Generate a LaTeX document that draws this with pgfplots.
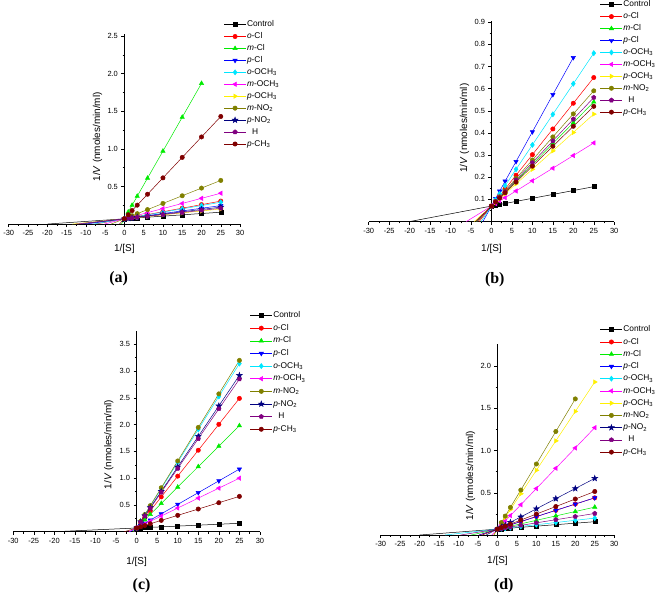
\documentclass[border=0pt]{standalone}
\usepackage{pgfplots}
\pgfplotsset{compat=1.18}
\usepackage{fontspec}
\setmainfont{Liberation Sans}
\newfontfamily\serifb{Liberation Serif}
\definecolor{cRed}{RGB}{255,0,0}
\definecolor{cGreen}{RGB}{0,235,0}
\definecolor{cBlue}{RGB}{0,0,255}
\definecolor{cCyan}{RGB}{0,230,255}
\definecolor{cMag}{RGB}{255,0,255}
\definecolor{cYel}{RGB}{255,240,0}
\definecolor{cOlive}{RGB}{128,128,0}
\definecolor{cNavy}{RGB}{0,0,128}
\definecolor{cPurp}{RGB}{128,0,128}
\definecolor{cWine}{RGB}{128,0,0}
\pgfdeclareplotmark{fstar}{%
  \pgfpathmoveto{\pgfpointpolar{90}{1.35\pgfplotmarksize}}%
  \pgfpathlineto{\pgfpointpolar{126}{0.55\pgfplotmarksize}}%
  \pgfpathlineto{\pgfpointpolar{162}{1.35\pgfplotmarksize}}%
  \pgfpathlineto{\pgfpointpolar{198}{0.55\pgfplotmarksize}}%
  \pgfpathlineto{\pgfpointpolar{234}{1.35\pgfplotmarksize}}%
  \pgfpathlineto{\pgfpointpolar{270}{0.55\pgfplotmarksize}}%
  \pgfpathlineto{\pgfpointpolar{306}{1.35\pgfplotmarksize}}%
  \pgfpathlineto{\pgfpointpolar{342}{0.55\pgfplotmarksize}}%
  \pgfpathlineto{\pgfpointpolar{18}{1.35\pgfplotmarksize}}%
  \pgfpathlineto{\pgfpointpolar{54}{0.55\pgfplotmarksize}}%
  \pgfpathclose
  \pgfusepathqfillstroke
}
\pgfplotsset{
  lb/.style={
    scale only axis,
    anchor=south west,
    xmin=-30, xmax=30, ymin=0,
    axis x line=bottom, axis y line=middle,
    axis line style={-, black, line width=0.6pt},
    xtick={-30,-25,...,30},
    minor x tick num=1, minor y tick num=1,
    tick align=outside,
    major tick length=3pt, minor tick length=1.8pt,
    every tick/.style={black, line width=0.5pt},
    tick label style={font=\fontsize{7.5}{8}\selectfont},
    /pgf/number format/assume math mode=true,
    yticklabel style={/pgf/number format/.cd, fixed, fixed zerofill, precision=1},
    xlabel={1/[S]}, ylabel={1/\textit{V} (nmoles/min/ml)},
    label style={font=\fontsize{10}{12}\selectfont},
    legend cell align=left,
    legend image code/.code={\draw[##1, mark indices={2}] plot coordinates {(0pt,0pt) (11pt,0pt) (22pt,0pt)};},
    legend style={draw=none, fill=none, anchor=north west, inner sep=0pt, outer sep=0pt,
      font=\fontsize{8.4}{9}\selectfont,
      nodes={inner sep=0.8pt, text height=6pt, text depth=1.8pt}, row sep=2.6pt},
    every axis plot/.append style={line width=0.5pt, mark indices={2,3,4,5,6,7,8,9,10}, mark size=2.2pt},
    clip=false,
  },
  sCtl/.style={color=black, mark=square*, mark size=2pt},
  sOCl/.style={color=cRed, mark=*},
  sMCl/.style={color=cGreen, mark=triangle*, mark size=2.5pt},
  sPCl/.style={color=cBlue, mark=triangle*, mark size=2.5pt, mark options={rotate=180}},
  sOOM/.style={color=cCyan, mark=diamond*, mark size=2.6pt},
  sMOM/.style={color=cMag, mark=triangle*, mark size=2.5pt, mark options={rotate=90}},
  sPOM/.style={color=cYel, mark=triangle*, mark size=2.5pt, mark options={rotate=-90}},
  sMN/.style={color=cOlive, mark=*},
  sPN/.style={color=cNavy, mark=fstar, mark size=2.2pt},
  sH/.style={color=cPurp, mark=pentagon*, mark size=2.3pt},
  sPCH/.style={color=cWine, mark=*},
}
\begin{document}
\begin{tikzpicture}[x=1pt,y=1pt]
\path (0,0) rectangle (659,601);
% ---------------- (a)
\begin{axis}[lb, at={(5.5pt,377.5pt)}, width=232.5pt, height=190.5pt, ymax=2.52,
  ytick={0,0.5,...,2.5},
  every axis y label/.style={at={([xshift=-27pt]axis description cs:0.5,0.46)},rotate=90,anchor=center},
  every axis x label/.style={at={([yshift=-25pt]axis description cs:0.5,0)},anchor=center},
  legend style={at={(axis description cs:0.93,1.077)}}]
\addplot[sCtl] coordinates {(-20,0)(0,0.070)(1,0.0735)(2,0.077)(3.33,0.0817)(6,0.091)(10,0.105)(15,0.1225)(20,0.140)(25,0.1575)};
\addlegendentry{Control}
\addplot[sOCl] coordinates {(-7.45,0)(0,0.070)(1,0.079)(2,0.089)(3.33,0.101)(6,0.126)(10,0.164)(15,0.211)(20,0.258)(25,0.305)};
\addlegendentry{\textit{o}-Cl}
\addplot[sMCl] coordinates {(-0.78,0)(0,0.070)(1,0.160)(2,0.250)(3.33,0.370)(6,0.610)(10,0.970)(15,1.420)(20,1.870)};
\addlegendentry{\textit{m}-Cl}
\addplot[sPCl] coordinates {(-10,0)(0,0.070)(1,0.077)(2,0.084)(3.33,0.093)(6,0.112)(10,0.140)(15,0.175)(20,0.210)(25,0.245)};
\addlegendentry{\textit{p}-Cl}
\addplot[sOOM] coordinates {(-7.95,0)(0,0.070)(1,0.079)(2,0.088)(3.33,0.099)(6,0.123)(10,0.158)(15,0.202)(20,0.246)(25,0.290)};
\addlegendentry{\textit{o}-OCH\textsubscript{3}}
\addplot[sMOM] coordinates {(-5.15,0)(0,0.070)(1,0.084)(2,0.097)(3.33,0.115)(6,0.152)(10,0.206)(15,0.274)(20,0.342)(25,0.410)};
\addlegendentry{\textit{m}-OCH\textsubscript{3}}
\addplot[sPOM] coordinates {(-13.46,0)(0,0.070)(1,0.075)(2,0.080)(3.33,0.087)(6,0.101)(10,0.122)(15,0.148)(20,0.174)(25,0.200)};
\addlegendentry{\textit{p}-OCH\textsubscript{3}}
\addplot[sMN] coordinates {(-3.43,0)(0,0.070)(1,0.090)(2,0.111)(3.33,0.138)(6,0.192)(10,0.274)(15,0.376)(20,0.478)(25,0.580)};
\addlegendentry{\textit{m}-NO\textsubscript{2}}
\addplot[sPN] coordinates {(-11.29,0)(0,0.070)(1,0.076)(2,0.082)(3.33,0.091)(6,0.107)(10,0.132)(15,0.163)(20,0.194)(25,0.225)};
\addlegendentry{\textit{p}-NO\textsubscript{2}}
\addplot[sH] coordinates {(-12.5,0)(0,0.070)(1,0.076)(2,0.081)(3.33,0.089)(6,0.104)(10,0.126)(15,0.154)(20,0.182)(25,0.210)};
\addlegendentry{\hspace{5pt}H}
\addplot[sPCH] coordinates {(-1.29,0)(0,0.070)(1,0.124)(2,0.179)(3.33,0.251)(6,0.396)(10,0.614)(15,0.886)(20,1.158)(25,1.430)};
\addlegendentry{\textit{p}-CH\textsubscript{3}}
\end{axis}
% ---------------- (b)
\begin{axis}[lb, at={(367.3pt,380pt)}, width=246.7pt, height=201.5pt, ymax=0.905,
  ytick={0,0.1,...,0.9},
  every axis y label/.style={at={([xshift=-27pt]axis description cs:0.5,0.466)},rotate=90,anchor=center},
  every axis x label/.style={at={([yshift=-27pt]axis description cs:0.5,0)},anchor=center},
  legend style={at={(axis description cs:0.943,1.105)}}]
\addplot[sCtl] coordinates {(-20,0)(0,0.070)(1,0.0735)(2,0.077)(3.33,0.0817)(6,0.091)(10,0.105)(15,0.1225)(20,0.140)(25,0.1575)};
\addlegendentry{Control}
\addplot[sOCl] coordinates {(-3.02,0)(0,0.070)(1,0.093)(2,0.116)(3.33,0.147)(6,0.209)(10,0.302)(15,0.418)(20,0.534)(25,0.650)};
\addlegendentry{\textit{o}-Cl}
\addplot[sMCl] coordinates {(-3.72,0)(0,0.070)(1,0.089)(2,0.108)(3.33,0.133)(6,0.183)(10,0.258)(15,0.352)(20,0.446)(25,0.540)};
\addlegendentry{\textit{m}-Cl}
\addplot[sPCl] coordinates {(-2.09,0)(0,0.070)(1,0.104)(2,0.137)(3.33,0.182)(6,0.271)(10,0.405)(15,0.573)(20,0.740)};
\addlegendentry{\textit{p}-Cl}
\addplot[sOOM] coordinates {(-2.54,0)(0,0.070)(1,0.098)(2,0.125)(3.33,0.162)(6,0.236)(10,0.346)(15,0.484)(20,0.622)(25,0.760)};
\addlegendentry{\textit{o}-OCH\textsubscript{3}}
\addplot[sMOM] coordinates {(-6.14,0)(0,0.070)(1,0.081)(2,0.093)(3.33,0.108)(6,0.138)(10,0.184)(15,0.241)(20,0.298)(25,0.355)};
\addlegendentry{\textit{m}-OCH\textsubscript{3}}
\addplot[sPOM] coordinates {(-4.22,0)(0,0.070)(1,0.087)(2,0.103)(3.33,0.125)(6,0.170)(10,0.236)(15,0.319)(20,0.402)(25,0.485)};
\addlegendentry{\textit{p}-OCH\textsubscript{3}}
\addplot[sMN] coordinates {(-3.37,0)(0,0.070)(1,0.091)(2,0.112)(3.33,0.139)(6,0.195)(10,0.278)(15,0.382)(20,0.486)(25,0.590)};
\addlegendentry{\textit{m}-NO\textsubscript{2}}
\addplot[sH] coordinates {(-3.57,0)(0,0.070)(1,0.090)(2,0.109)(3.33,0.135)(6,0.188)(10,0.266)(15,0.364)(20,0.462)(25,0.560)};
\addlegendentry{\hspace{5pt}H}
\addplot[sPCH] coordinates {(-3.89,0)(0,0.070)(1,0.088)(2,0.106)(3.33,0.130)(6,0.178)(10,0.250)(15,0.340)(20,0.430)(25,0.520)};
\addlegendentry{\textit{p}-CH\textsubscript{3}}
\end{axis}
% ---------------- (c)
\begin{axis}[lb, at={(10pt,68.3pt)}, width=248pt, height=201.8pt, ymax=3.75,
  ytick={0,0.5,...,3.5},
  every axis y label/.style={at={([xshift=-28pt]axis description cs:0.5,0.435)},rotate=90,anchor=center},
  every axis x label/.style={at={([yshift=-30pt]axis description cs:0.5,0)},anchor=center},
  legend style={at={(axis description cs:0.96,1.10)}, row sep=3.3pt}]
\addplot[sCtl] coordinates {(-20,0)(0,0.070)(1,0.0735)(2,0.077)(3.33,0.0817)(6,0.091)(10,0.105)(15,0.1225)(20,0.140)(25,0.1575)};
\addlegendentry{Control}
\addplot[sOCl] coordinates {(-0.72,0)(0,0.070)(1,0.167)(2,0.264)(3.33,0.392)(6,0.651)(10,1.038)(15,1.522)(20,2.006)(25,2.490)};
\addlegendentry{\textit{o}-Cl}
\addplot[sMCl] coordinates {(-0.92,0)(0,0.070)(1,0.146)(2,0.223)(3.33,0.325)(6,0.528)(10,0.834)(15,1.216)(20,1.598)(25,1.980)};
\addlegendentry{\textit{m}-Cl}
\addplot[sPCl] coordinates {(-1.59,0)(0,0.070)(1,0.114)(2,0.158)(3.33,0.217)(6,0.334)(10,0.510)(15,0.730)(20,0.950)(25,1.170)};
\addlegendentry{\textit{p}-Cl}
\addplot[sOOM] coordinates {(-0.57,0)(0,0.070)(1,0.193)(2,0.316)(3.33,0.479)(6,0.807)(10,1.298)(15,1.912)(20,2.526)(25,3.140)};
\addlegendentry{\textit{o}-OCH\textsubscript{3}}
\addplot[sMOM] coordinates {(-1.88,0)(0,0.070)(1,0.107)(2,0.144)(3.33,0.194)(6,0.293)(10,0.442)(15,0.628)(20,0.814)(25,1.000)};
\addlegendentry{\textit{m}-OCH\textsubscript{3}}
\addplot[sMN] coordinates {(-0.56,0)(0,0.070)(1,0.195)(2,0.320)(3.33,0.487)(6,0.821)(10,1.322)(15,1.948)(20,2.574)(25,3.200)};
\addlegendentry{\textit{m}-NO\textsubscript{2}}
\addplot[sPN] coordinates {(-0.61,0)(0,0.070)(1,0.184)(2,0.298)(3.33,0.450)(6,0.754)(10,1.210)(15,1.780)(20,2.350)(25,2.920)};
\addlegendentry{\textit{p}-NO\textsubscript{2}}
\addplot[sH] coordinates {(-0.63,0)(0,0.070)(1,0.181)(2,0.292)(3.33,0.440)(6,0.737)(10,1.182)(15,1.738)(20,2.294)(25,2.850)};
\addlegendentry{\hspace{5pt}H}
\addplot[sPCH] coordinates {(-2.97,0)(0,0.070)(1,0.094)(2,0.117)(3.33,0.149)(6,0.212)(10,0.306)(15,0.424)(20,0.542)(25,0.660)};
\addlegendentry{\textit{p}-CH\textsubscript{3}}
\end{axis}
% ---------------- (d)
\begin{axis}[lb, at={(379.3pt,65pt)}, width=234.7pt, height=192pt, ymax=2.26,
  ytick={0,0.5,...,2.0},
  every axis y label/.style={at={([xshift=-27pt]axis description cs:0.5,0.31)},rotate=90,anchor=center},
  every axis x label/.style={at={([yshift=-26pt]axis description cs:0.5,0)},anchor=center},
  legend style={at={(axis description cs:0.94,1.099)}, row sep=2.9pt}]
\addplot[sCtl] coordinates {(-20,0)(0,0.070)(1,0.0735)(2,0.077)(3.33,0.0817)(6,0.091)(10,0.105)(15,0.1225)(20,0.140)(25,0.1575)};
\addlegendentry{Control}
\addplot[sOCl] coordinates {(-4.73,0)(0,0.070)(1,0.085)(2,0.100)(3.33,0.119)(6,0.159)(10,0.218)(15,0.292)(20,0.366)(25,0.440)};
\addlegendentry{\textit{o}-Cl}
\addplot[sMCl] coordinates {(-6.73,0)(0,0.070)(1,0.080)(2,0.091)(3.33,0.105)(6,0.132)(10,0.174)(15,0.226)(20,0.278)(25,0.330)};
\addlegendentry{\textit{m}-Cl}
\addplot[sPCl] coordinates {(-4.73,0)(0,0.070)(1,0.085)(2,0.100)(3.33,0.119)(6,0.159)(10,0.218)(15,0.292)(20,0.366)(25,0.440)};
\addlegendentry{\textit{p}-Cl}
\addplot[sOOM] coordinates {(-13.46,0)(0,0.070)(1,0.075)(2,0.080)(3.33,0.087)(6,0.101)(10,0.122)(15,0.148)(20,0.174)(25,0.200)};
\addlegendentry{\textit{o}-OCH\textsubscript{3}}
\addplot[sMOM] coordinates {(-1.46,0)(0,0.070)(1,0.118)(2,0.166)(3.33,0.230)(6,0.358)(10,0.550)(15,0.790)(20,1.030)(25,1.270)};
\addlegendentry{\textit{m}-OCH\textsubscript{3}}
\addplot[sPOM] coordinates {(-1.0,0)(0,0.070)(1,0.140)(2,0.209)(3.33,0.302)(6,0.488)(10,0.766)(15,1.114)(20,1.462)(25,1.810)};
\addlegendentry{\textit{p}-OCH\textsubscript{3}}
\addplot[sMN] coordinates {(-0.91,0)(0,0.070)(1,0.147)(2,0.224)(3.33,0.327)(6,0.532)(10,0.840)(15,1.225)(20,1.610)};
\addlegendentry{\textit{m}-NO\textsubscript{2}}
\addplot[sPN] coordinates {(-2.92,0)(0,0.070)(1,0.094)(2,0.118)(3.33,0.150)(6,0.214)(10,0.310)(15,0.430)(20,0.550)(25,0.670)};
\addlegendentry{\textit{p}-NO\textsubscript{2}}
\addplot[sH] coordinates {(-9.46,0)(0,0.070)(1,0.077)(2,0.085)(3.33,0.095)(6,0.114)(10,0.144)(15,0.181)(20,0.218)(25,0.255)};
\addlegendentry{\hspace{5pt}H}
\addplot[sPCH] coordinates {(-3.93,0)(0,0.070)(1,0.088)(2,0.106)(3.33,0.129)(6,0.177)(10,0.248)(15,0.337)(20,0.426)(25,0.515)};
\addlegendentry{\textit{p}-CH\textsubscript{3}}
\end{axis}
\node[font=\serifb\bfseries\fontsize{16}{16}\selectfont] at (116,323) {(a)};
\node[font=\serifb\bfseries\fontsize{16}{16}\selectfont] at (494,322) {(b)};
\node[font=\serifb\bfseries\fontsize{16}{16}\selectfont] at (139,14) {(c)};
\node[font=\serifb\bfseries\fontsize{16}{16}\selectfont] at (503,14) {(d)};
\end{tikzpicture}
\end{document}
